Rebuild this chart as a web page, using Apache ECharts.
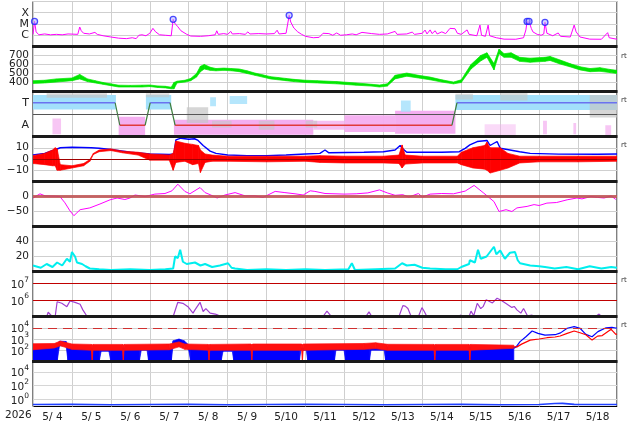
<!DOCTYPE html>
<html><head><meta charset="utf-8">
<script src="https://cdn.jsdelivr.net/npm/echarts@6/dist/echarts.min.js"></script>
<style>html,body{margin:0;padding:0;background:#fff}#c{width:634px;height:424px}</style>
</head><body><div id="c"></div>
<script>
// ---------------- data (time t = days since 2026-05-04 00:00) ----------------
const dayLabels = ['5/ 4','5/ 5','5/ 6','5/ 7','5/ 8','5/ 9','5/10','5/11','5/12','5/13','5/14','5/15','5/16','5/17','5/18'];
const yearLabel = '2026';

// X-ray flux (W/m2)
const xrayT = [0,0.04,0.08,0.15,0.3,0.45,0.6,0.75,0.9,1.15,1.2,1.24,1.3,1.45,1.59,1.65,1.8,2.0,2.2,2.4,2.55,2.65,2.72,2.8,2.9,3.0,3.08,3.15,3.25,3.4,3.55,3.6,3.64,3.72,3.8,3.85,3.95,4.05,4.3,4.5,4.68,4.72,4.76,4.9,5.0,5.08,5.12,5.3,5.45,5.52,5.57,5.8,6.0,6.2,6.27,6.32,6.5,6.58,6.62,6.7,6.8,6.9,7.0,7.2,7.35,7.45,7.5,7.6,7.7,7.8,7.9,8.05,8.2,8.3,8.45,8.5,8.7,8.9,9.1,9.3,9.35,9.6,9.74,9.8,10.0,10.07,10.12,10.2,10.25,10.33,10.38,10.5,10.6,10.71,10.84,10.9,11.0,11.15,11.2,11.4,11.48,11.52,11.62,11.69,11.73,11.9,12.1,12.4,12.6,12.66,12.69,12.72,12.74,12.8,12.84,12.95,13.05,13.12,13.15,13.2,13.35,13.49,13.55,13.8,13.9,13.95,14.05,14.3,14.6,14.76,14.8,15.0];
const xrayV = [1.2e-6,1.7e-5,2e-6,1.1e-6,1.3e-6,1.1e-6,1.2e-6,1.1e-6,1.3e-6,1.2e-6,5.4e-6,2.5e-6,1.5e-6,1.3e-6,1.8e-6,1.2e-6,9e-7,7e-7,5.5e-7,5e-7,6e-7,5e-7,1e-6,1.1e-6,9e-7,1.5e-6,4.1e-6,2e-6,1.1e-6,1e-6,9e-7,2.6e-5,1.2e-5,5.7e-6,2.5e-6,2e-6,1.2e-6,8.5e-7,8e-7,9e-7,1.1e-6,2.5e-6,1.2e-6,1.4e-6,1.2e-6,2.2e-6,1.3e-6,1.4e-6,1.2e-6,2e-6,1.3e-6,1.4e-6,1.3e-6,1.4e-6,2.8e-6,1.3e-6,1.5e-6,5.9e-5,1.5e-5,4.4e-6,2e-6,1.2e-6,8e-7,6e-7,6.5e-7,1.5e-6,1e-6,1.4e-6,1e-6,1.6e-6,1e-6,1.1e-6,1.3e-6,1.1e-6,1.8e-6,1.2e-6,1.4e-6,1.2e-6,1.3e-6,2.2e-6,1.2e-6,1.3e-6,1.9e-6,1.2e-6,1.5e-6,2.9e-6,1.3e-6,3e-6,1.4e-6,2.5e-6,1.3e-6,2e-6,1.4e-6,4.1e-6,3.8e-6,1.5e-6,1.2e-6,3e-6,1.2e-6,9e-7,8e-6,1e-6,8e-7,8e-6,9e-7,6e-7,4.5e-7,4.4e-7,6e-7,3e-6,1.7e-5,8e-6,1.7e-5,4e-6,2e-6,1.2e-6,1e-6,1.3e-6,1.4e-5,1.5e-6,9e-7,1.6e-6,8e-7,7e-7,8e-6,2e-6,7e-7,4.5e-7,4.4e-7,1.7e-6,6e-7,4.4e-7];
const flareT = [0.04,3.6,6.58,12.69,12.74,13.15];
const flareV = [1.7e-5,2.6e-5,5.9e-5,1.7e-5,1.7e-5,1.4e-5];

// Solar wind speed (km/s) envelope
const speedT  = [0,0.3,0.6,1.0,1.2,1.4,1.6,1.8,2.0,2.2,2.5,2.8,3.0,3.2,3.4,3.55,3.62,3.7,3.9,4.05,4.2,4.3,4.4,4.55,4.7,4.9,5.1,5.3,5.5,5.7,5.9,6.1,6.3,6.5,6.7,7.0,7.3,7.8,8.3,8.7,8.9,9.1,9.3,9.6,9.9,10.2,10.5,10.8,11.0,11.25,11.5,11.66,11.84,11.97,12.1,12.28,12.5,12.77,13.15,13.28,13.54,13.79,14.05,14.31,14.56,14.82,15.0];
const speedLo = [390,395,405,420,440,410,395,380,365,350,350,350,355,345,340,330,330,395,405,420,460,520,550,535,530,535,530,520,500,480,460,440,430,420,410,400,395,385,370,360,350,360,440,470,450,430,405,385,400,550,640,680,540,720,680,680,635,625,635,645,605,575,540,520,525,510,500];
const speedHi = [420,425,440,450,490,440,420,400,385,370,368,370,372,362,358,348,400,415,425,445,500,580,600,570,555,560,555,550,530,505,485,465,455,445,435,425,420,410,395,380,372,385,480,505,480,460,430,405,430,600,700,730,610,770,720,730,680,670,680,690,650,610,575,555,565,545,535];

// IMF sector (T = +1, A = -1)
const sectorT = [0,2.11,2.23,2.88,3.01,3.52,3.65,10.76,10.89,15];
const sectorV = [1,1,-1,-1,1,1,-1,-1,1,1];
// sector point clouds: [t0, t1, lo, hi, density]
const cloudBlue = [[0,2.13,0.4,1.7,1],[2.9,3.55,0.4,1.7,1],[10.85,15,0.35,1.7,1],[4.55,4.7,0.7,1.5,0.8],[5.05,5.5,0.9,1.6,0.8],[9.45,9.7,0.2,1.2,0.8]];
const cloudPink = [[2.2,2.88,-1.9,-0.25,1],[3.62,7.2,-1.85,-0.5,1],[7.2,8.0,-1.4,-0.6,0.8],[8.0,9.3,-1.6,-0.1,0.95],[9.3,10.85,-1.75,0.3,1],[0.5,0.72,-1.8,-0.4,0.7],[11.6,12.4,-1.9,-0.9,0.45],[13.1,13.2,-1.8,-0.6,0.7],[13.88,13.95,-1.8,-0.8,0.7],[14.7,14.85,-1.95,-1.0,0.7]];
const cloudGray = [[0.35,1.9,1.45,1.85,0.7],[2.9,3.5,1.5,1.85,0.6],[3.95,4.5,-0.8,0.6,0.7],[4.6,5.1,-1.2,-0.6,0.6],[5.8,6.2,-1.4,-0.6,0.6],[7.0,7.3,-1.2,-0.6,0.6],[12.0,12.7,1.2,1.9,0.6],[14.3,15.0,-0.3,1.7,0.7],[10.85,11.3,1.3,1.8,0.6]];

// IMF Bt (nT)
const btT = [0,0.3,0.55,0.7,1.0,1.5,1.7,2.0,2.5,3.0,3.5,3.62,3.67,3.8,4.0,4.15,4.24,4.37,4.55,4.7,5.0,5.5,6.0,6.5,7.0,7.37,7.5,7.6,8.5,9.0,9.3,9.43,9.5,9.6,10.5,10.95,11.1,11.22,11.41,11.66,11.74,11.84,11.92,12.0,12.25,12.5,12.77,13.5,14.5,15];
const btV = [3.6,5,8,10,10.5,10,9.5,8.5,6,4.5,4,4.5,17,18.5,17.5,18,16.5,12,7,5,3.5,3,3,3.5,4.5,5,8,5.5,6,6.5,8,12,9,6,6,6.5,9.5,12.5,15.5,16.5,12,14,15.5,9.5,8,6.5,5,4.3,4.2,4.5];
// IMF Bz envelope (nT)
const bzT  = [0,0.3,0.5,0.57,0.62,0.7,1.0,1.3,1.46,1.55,1.7,2.0,2.3,2.7,3.0,3.5,3.6,3.67,3.9,4.1,4.25,4.3,4.42,4.6,5.0,6.0,7.0,7.37,8.0,9.0,9.4,9.48,9.56,10.0,10.9,11.0,11.3,11.6,11.66,11.74,12.0,12.2,12.5,13.0,14.0,15.0];
const bzLo = [-4,-5,-6,-6,-10,-10,-8,-6,-2,4,6.5,7.5,5.5,3.5,-1,-1,-10,-3,-2,-5,-4,-12,-3,-2,-2,-2.5,-2,-3,-3.5,-3.5,-4,-8,-4.5,-3.5,-3.5,-5,-8,-9,-10,-12.5,-10,-8,-3.5,-2.5,-2.5,-2];
const bzHi = [3,5,8,10,9,-5,-6,-4,-0.5,5,8,9,7,6,4.5,3.5,5,16,14,13,12,8,4.5,3.5,2.5,2.5,2.5,3,2.5,2.5,3.5,12.5,3.5,2.5,2.5,6,10,12,15,10,10,5,2.5,2.5,2.5,2.5];

// Dst (nT)
const dstT = [0,0.18,0.31,0.57,0.69,0.82,0.95,1.05,1.21,1.46,1.72,1.98,2.16,2.36,2.49,2.62,2.88,3.13,3.39,3.57,3.72,3.9,4.03,4.29,4.42,4.55,4.73,4.93,5.19,5.45,5.7,5.91,6.22,6.47,6.73,6.94,7.12,7.24,7.5,8.0,8.3,8.6,8.9,9.1,9.3,9.5,9.65,9.9,10.0,10.2,10.5,10.8,11.1,11.33,11.58,11.84,11.97,12.15,12.3,12.43,12.69,12.87,13.0,13.2,13.45,13.72,13.97,14.1,14.33,14.5,14.67,14.85,14.97];
const dstV = [-5,9,2,1,0,-21,-48,-64,-44,-38,-25,-11,-5,-10,-5,5,0,8,10,19,41,17,9,30,13,6,-5,5,13,2,2,-3,17,13,9,5,19,17,10,8,9,12,22,12,4,6,-2,10,-2,8,10,9,18,37,11,-17,-50,-44,-50,-38,-33,-27,-30,-22,-20,-11,-5,-8,0,-3,-5,2,-10];

// cyan index
const cyanT = [0,0.2,0.35,0.5,0.62,0.75,0.87,0.95,1.0,1.08,1.13,1.26,1.35,1.46,1.7,2.0,2.5,3.0,3.4,3.6,3.65,3.72,3.78,3.85,3.95,4.16,4.3,4.42,4.6,4.8,5.01,5.1,5.19,5.5,6.0,6.5,7.0,7.5,8.1,8.19,8.27,8.8,9.3,9.48,9.6,9.8,10.0,10.2,10.6,10.9,11.0,11.2,11.22,11.35,11.43,11.5,11.65,11.84,11.9,12.0,12.12,12.25,12.38,12.45,12.51,12.77,13.0,13.15,13.4,13.7,14.0,14.3,14.6,14.85,15];
const cyanV = [8,5,10,6,12,8,17,13,26,20,12,10,7,4,3,2,3,2,3,4,20,18,29,13,10,12,8,10,6,8,11,5,4,2,3,2,3,2,3,11,2,3,4,11,8,9,5,4,3,3,6,10,15,12,29,17,20,33,23,28,17,25,26,15,11,8,7,6,4,6,3,7,4,6,5];

// proton flux (null = below scale)
const protonT = [0.36,0.39,0.44,0.49,0.57,0.62,0.74,0.87,0.95,1.08,1.21,1.28,1.39,1.4, 3.6,3.72,3.85,3.98,4.03,4.11,4.16,4.29,4.37,4.44,4.55,4.68,4.75,4.85,4.86, 7.0,7.04,7.1,7.11, 7.45,7.55,7.65,7.66, 8.55,8.63,8.7,8.71, 8.9,8.95,9.0,9.01, 9.4,9.5,9.56,9.63,9.7,9.76,9.77, 9.9,9.99,10.05,10.1,10.15,10.16, 10.9,10.99,11.05,11.06, 11.2,11.25,11.32,11.41,11.5,11.56,11.64,11.69,11.8,11.92,12.0,12.05,12.15,12.2,12.3,12.36,12.43,12.53,12.6,12.7,12.82,12.9,12.91, 14.45,14.54,14.6,14.61, 14.8,14.85,14.9];
const protonV = [1.1e5,1.8e5,1.5e5,1.0e5,1.0e5,7.7e5,6.2e5,3.9e5,8.5e5,7e5,5.4e5,2.5e5,1.0e5,null, 1.0e5,7.1e5,6.2e5,3.9e5,3e5,1.6e5,2.5e5,7.1e5,2e5,3e5,1.6e5,1.4e5,1.2e5,1.0e5,null, 1.0e5,1.3e5,1.0e5,null, 1.0e5,2.1e5,1.1e5,null, 1.0e5,1.9e5,1.0e5,null, 1.0e5,1.2e5,1.0e5,null, 1.0e5,4.5e5,4.2e5,3e5,1.2e5,1.0e5,null, 1.0e5,3.4e5,2e5,1.2e5,1e5,null, 1.0e5,1.2e5,1e5,null, 1.0e5,2.1e5,1.1e5,6.2e5,3e5,3.9e5,1e6,8.5e5,6.5e5,1.25e6,1e6,8e5,6e5,5e5,3.5e5,4e5,2.5e5,1.6e5,3e5,1.1e5,1.2e5,1.0e5,null, 1.0e5,1.4e5,1.0e5,null, 1.0e5,1.2e5,1.0e5];

// electron flux envelopes and smooth tails
const eBlueT  = [0,0.62,0.68,0.85,0.9,1.7,1.75,1.95,2.0,2.73,2.78,2.93,2.97,3.55,3.6,3.75,3.88,4.0,4.05,4.83,4.88,5.12,5.16,6.84,6.88,7.02,7.06,7.74,7.78,7.99,8.03,8.64,8.68,9.02,9.06,12.35];
const eBlueLo = [10,10,250,250,10,10,80,80,10,10,100,100,10,10,300,400,300,100,10,10,80,80,10,10,100,100,10,10,100,100,10,10,100,100,10,10];
const eBlueHi = [300,300,650,600,160,150,150,150,160,160,160,160,160,160,700,1000,700,300,160,160,160,160,150,150,160,160,160,160,160,160,150,150,160,160,200,200];
const eRedT  = [0,0.55,0.7,1.0,1.5,1.52,1.54,2.3,2.32,2.34,3.5,3.75,3.9,4.5,4.52,4.54,5.6,5.62,5.64,6.9,6.92,6.94,8.5,8.8,9.1,10.3,10.32,10.34,11.2,11.22,11.24,12.35];
const eRedLo = [110,160,250,120,100,12,100,100,12,100,110,200,120,100,12,100,100,12,100,100,12,100,120,140,100,100,12,100,100,12,100,150];
const eRedHi = [380,400,650,360,330,280,330,330,280,330,360,550,360,330,280,330,360,280,360,360,280,360,400,460,340,330,280,330,330,280,330,280];
const eRedLineT = [12.35,12.43,12.55,12.77,13.0,13.2,13.41,13.54,13.72,13.9,14.05,14.2,14.36,14.5,14.62,14.85,14.97,15.0];
const eRedLineV = [200,200,350,800,1000,1300,1500,1850,3200,5100,3600,2400,800,1800,2000,7200,2600,2800];
const eBlueLineT = [12.35,12.41,12.51,12.66,12.82,12.97,13.15,13.41,13.55,13.72,13.9,14.05,14.2,14.36,14.51,14.72,14.87,15.0];
const eBlueLineV = [150,200,580,1600,5100,3200,2200,2400,3500,9000,12600,9000,2600,1600,4500,10000,10700,9000];

// bottom panel
const lowT = [0,1,2,3,4,5,6,7,8,9,10,11,12,13,13.4,13.6,13.9,14.2,15];
const lowV = [0.19,0.2,0.18,0.19,0.2,0.18,0.19,0.2,0.19,0.18,0.19,0.2,0.18,0.19,0.27,0.28,0.2,0.19,0.19];

// ---------------- chart ----------------
const FONT = 'DejaVu Sans';
const TOP0 = 1.5, PH = 45, LEFT = 33, RIGHT = 17;
const chart = echarts.init(document.getElementById('c'), null, {renderer:'canvas'});

function pairs(ts, vs){ return ts.map((t,i)=>[t, vs[i]==null ? '-' : vs[i]]); }
function line(gi, ts, vs, color, width, z){
  return {type:'line', xAxisIndex:gi, yAxisIndex:gi, data:pairs(ts,vs), symbol:'none', showSymbol:false,
    lineStyle:{color, width}, connectNulls:false, animation:false, silent:true, z:z||3, clip:true};
}
function band(gi, ts, lo, hi, color, z){
  const data=[];
  for(let i=0;i<ts.length-1;i++) data.push([ts[i],lo[i],hi[i],ts[i+1],lo[i+1],hi[i+1]]);
  return {type:'custom', xAxisIndex:gi, yAxisIndex:gi, data, encode:{x:[0,3], y:[1,2,4,5]}, z:z||2,
    silent:true, animation:false, clip:true,
    renderItem(params, api){
      const p0=api.coord([api.value(0),api.value(1)]), p1=api.coord([api.value(3),api.value(4)]);
      const p2=api.coord([api.value(3),api.value(5)]), p3=api.coord([api.value(0),api.value(2)]);
      return {type:'polygon', shape:{points:[p0,p1,p2,p3]}, style:{fill:color, stroke:color, lineWidth:0.7}};
    }};
}
function rects(gi, list, color, z){
  return {type:'custom', xAxisIndex:gi, yAxisIndex:gi, data:list, encode:{x:[0,1], y:[2,3]}, z:z||2,
    silent:true, animation:false, clip:true,
    renderItem(params, api){
      const a=api.coord([api.value(0),api.value(3)]), b=api.coord([api.value(1),api.value(2)]);
      return {type:'rect', shape:{x:a[0], y:a[1], width:b[0]-a[0], height:b[1]-a[1]}, style:{fill:color, opacity:api.value(4)}};
    }};
}
function mark(vals, color, width, type){
  return {silent:true, symbol:'none', animation:false, label:{show:false},
    lineStyle:{color, width, type:type||'solid', opacity:1}, data: vals.map(v=>({yAxis:v}))};
}
function supFmt(allowed){
  return v => { const l=Math.log10(v), e=Math.round(l);
    if (Math.abs(l-e)>1e-6 || allowed.indexOf(e)<0) return '';
    return '{b|10}{s|'+e+'}'; };
}
const labelBase = {fontSize:10.5, color:'#222', margin:4, fontFamily:FONT};
const supRich = {b:{fontSize:10.5, fontFamily:FONT, color:'#222', lineHeight:15, verticalAlign:'bottom'},
                 s:{fontSize:7.5, fontFamily:FONT, color:'#222', lineHeight:9, verticalAlign:'top'}};
const grayLine = {lineStyle:{color:'#cfcfcf', width:1}};

const grids=[], xAxes=[], yAxes=[];
for(let i=0;i<9;i++){
  grids.push({left:LEFT, right:RIGHT, top:TOP0+PH*i, height:PH, show:true, borderColor:'#000', borderWidth:1, backgroundColor:'transparent'});
  xAxes.push({type:'value', gridIndex:i, min:0, max:15, interval:1, axisLabel:{show:false}, axisTick:{show:false},
    axisLine:{show:false}, splitLine:{show:true, lineStyle:{color:'#cfcfcf', width:1}}});
}
xAxes.push({type:'category', gridIndex:8, position:'bottom', data:dayLabels, boundaryGap:true,
  axisLine:{show:false}, axisTick:{show:false}, splitLine:{show:false},
  axisLabel:{fontSize:10.5, color:'#222', margin:5, interval:0, fontFamily:FONT}});

const yBase = (i, o) => Object.assign({gridIndex:i, axisLine:{show:false}, axisTick:{show:false}, splitLine:grayLine}, o);
yAxes.push(yBase(0,{type:'log', logBase:10, min:1e-7, max:1e-3,
  axisLabel:Object.assign({}, labelBase, {fontSize:11, formatter:v=>{const e=Math.round(Math.log10(v)); return ({'-4':'X','-5':'M','-6':'C'})[e]||'';}})}));
yAxes.push(yBase(1,{type:'value', min:300, max:800, interval:100,
  axisLabel:Object.assign({}, labelBase, {formatter:v=>(v>300&&v<800)?String(v):''})}));
yAxes.push(yBase(2,{type:'value', min:-2, max:2, interval:1, splitLine:{show:false},
  axisLabel:Object.assign({}, labelBase, {fontSize:11, formatter:v=>v===1?'T':(v===-1?'A':'')})}));
yAxes.push(yBase(3,{type:'value', min:-20, max:20, interval:10,
  axisLabel:Object.assign({}, labelBase, {formatter:v=>Math.abs(v)===20?'':(v<0?'\u2212'+(-v):String(v))})}));
yAxes.push(yBase(4,{type:'value', min:-100, max:50, interval:50,
  axisLabel:Object.assign({}, labelBase, {formatter:v=>v===0?'0':(v===-50?'\u221250':'')})}));
yAxes.push(yBase(5,{type:'value', min:0, max:60, interval:20,
  axisLabel:Object.assign({}, labelBase, {formatter:v=>(v===20||v===40)?String(v):''})}));
yAxes.push(yBase(6,{type:'log', logBase:10, min:1e5, max:5e7, splitLine:{show:false},
  axisLabel:Object.assign({}, labelBase, {formatter:supFmt([6,7]), rich:supRich})}));
yAxes.push(yBase(7,{type:'log', logBase:10, min:10, max:1e5,
  axisLabel:Object.assign({}, labelBase, {formatter:supFmt([2,3,4]), rich:supRich})}));
yAxes.push(yBase(8,{type:'log', logBase:10, min:0.1, max:3e5, splitLine:{show:false},
  axisLabel:Object.assign({}, labelBase, {formatter:supFmt([0,2,4]), rich:supRich})}));

// sector line split by state
function sectorSeg(kind){
  const d=[];
  for(let i=0;i<sectorT.length-1;i++){
    const a=sectorV[i], b=sectorV[i+1];
    const k = a===b ? (a>0?'T':'A') : 'X';
    if(k===kind){ d.push([sectorT[i],a],[sectorT[i+1],b],[sectorT[i+1],'-']); }
  }
  return d;
}

const series = [];
// panel 0: X-ray
series.push(line(0, xrayT, xrayV, '#ff00ff', 1));
series.push({type:'scatter', xAxisIndex:0, yAxisIndex:0, data:pairs(flareT, flareV), symbol:'circle', symbolSize:6,
  itemStyle:{color:'rgba(170,170,255,0.6)', borderColor:'#2020ff', borderWidth:1.3}, z:5, silent:true, animation:false});
// panel 1: speed
series.push(band(1, speedT, speedLo, speedHi, '#00e600'));
// panel 2: sector
series.push(rects(2, cloudPink, '#f4aef0', 1));
series.push(rects(2, cloudBlue, '#a2e0fb', 1));
series.push(rects(2, cloudGray, '#c4c4c4', 1));
const ta0 = {type:'line', xAxisIndex:2, yAxisIndex:2, symbol:'none', animation:false, silent:true, connectNulls:false, z:4};
series.push(Object.assign({}, ta0, {data:sectorSeg('T'), lineStyle:{color:'#6a72f0', width:1.5},
  markLine:mark([0], '#555', 1)}));
series.push(Object.assign({}, ta0, {data:sectorSeg('A'), lineStyle:{color:'#e03a3a', width:1.5}}));
series.push(Object.assign({}, ta0, {data:sectorSeg('X'), lineStyle:{color:'#3f7f3f', width:1.2}}));
// panel 3: Bt / Bz
series.push(band(3, bzT, bzLo, bzHi, '#ff0000', 3));
const bt = line(3, btT, btV, '#0000ff', 1.4, 2);
bt.markLine = mark([0], '#a00000', 1);
series.push(bt);
// panel 4: Dst
const dst = line(4, dstT, dstV, '#ff00ff', 1);
dst.markLine = mark([0], 'rgba(190,80,80,0.85)', 3);
series.push(dst);
// panel 5: cyan
series.push(line(5, cyanT, cyanV, '#00eeee', 2));
// panel 6: protons
const pr = line(6, protonT, protonV, '#a040d0', 1.2);
pr.markLine = mark([1e6, 1e7], '#c00000', 1);
series.push(pr);
// panel 7: electrons
series.push(band(7, eBlueT, eBlueLo, eBlueHi, '#0000ff', 2));
series.push(band(7, eRedT, eRedLo, eRedHi, '#ff1010', 3));
const ebl = line(7, eBlueLineT, eBlueLineV, '#0000ff', 1.2, 4);
ebl.markLine = mark([1e4], '#d03030', 1.2, [9,6]);
series.push(ebl);
series.push(line(7, eRedLineT, eRedLineV, '#ff0000', 1.2, 4));
// panel 8: bottom
const low = line(8, lowT, lowV, '#2040ff', 1.6);
low.markLine = mark([1, 100, 1e4], '#d6d6d6', 1);
series.push(low);

// layout decorations: separators, small labels
const graphic = [];
for(let i=1;i<9;i++){
  graphic.push({type:'rect', shape:{x:LEFT-1, y:TOP0+PH*i-1.5, width:634-LEFT-RIGHT+1.5, height:3}, style:{fill:'#1a1a1a'}, z:100, silent:true});
}
graphic.push({type:'text', left:5, top:410, style:{text:yearLabel, font:'10.5px '+FONT, fill:'#222'}, z:100});
[[1,10],[2,9],[3,9],[6,9],[7,9]].forEach(([p,dy])=>{
  graphic.push({type:'text', left:621, top:TOP0+PH*p+dy-4, style:{text:'rt', font:'7px '+FONT, fill:'#333'}, z:100});
});

chart.setOption({animation:false, backgroundColor:'#fff', grid:grids, xAxis:xAxes, yAxis:yAxes, series, graphic});
</script></body></html>
